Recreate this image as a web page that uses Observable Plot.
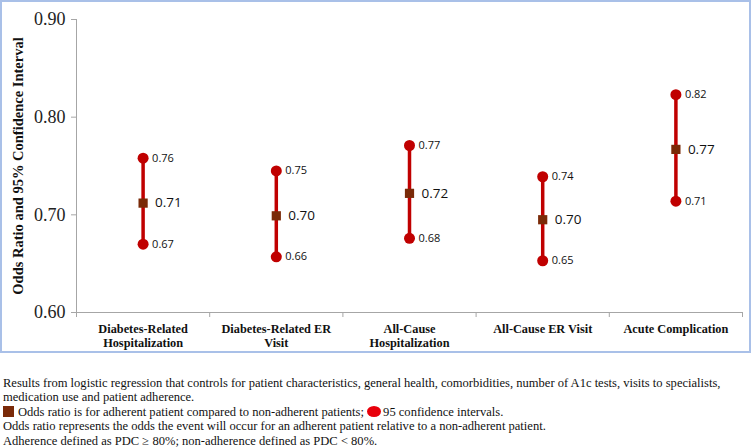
<!DOCTYPE html>
<html>
<head>
<meta charset="utf-8">
<script src="https://cdn.jsdelivr.net/npm/d3@7"></script>
<script src="https://cdn.jsdelivr.net/npm/@observablehq/plot@0.6"></script>
<style>
  body { margin: 0; background: #fff; width: 752px; height: 448px; overflow: hidden; }
  #box { position: absolute; left: 0; top: 0; width: 751px; height: 353px; box-sizing: border-box; border: 2px solid #a9c0e8; }
  #notes { position: absolute; left: 3px; top: 376px; font-family: "Liberation Serif", serif; font-size: 12.55px; line-height: 14.4px; color: #111; white-space: nowrap; }
  .sq { display: inline-block; width: 11px; height: 11px; background: #7a2a08; vertical-align: -1px; margin-right: 4px; }
  .el { display: inline-block; width: 14px; height: 11px; border-radius: 50%; background: #e8000b; vertical-align: -1px; margin-right: 2px; }
</style>
</head>
<body>
<div id="box"></div>
<div id="notes">
  Results from logistic regression that controls for patient characteristics, general health, comorbidities, number of A1c tests, visits to specialists,<br>
  medication use and patient adherence.<br>
  <span class="sq"></span>Odds ratio is for adherent patient compared to non-adherent patients; <span class="el"></span>95 confidence intervals.<br>
  Odds ratio represents the odds the event will occur for an adherent patient relative to a non-adherent patient.<br>
  Adherence defined as PDC ≥ 80%; non-adherence defined as PDC &lt; 80%.
</div>
<script>
const categories = ["Diabetes-Related\nHospitalization", "Diabetes-Related ER\nVisit", "All-Cause\nHospitalization", "All-Cause ER Visit", "Acute Complication"];
const oddsRatio = [0.712, 0.699, 0.722, 0.695, 0.767];
const lowerCI = [0.670, 0.657, 0.676, 0.653, 0.714];
const upperCI = [0.758, 0.745, 0.771, 0.739, 0.823];
const orLabels = ["0.71", "0.70", "0.72", "0.70", "0.77"];
const lowerLabels = ["0.67", "0.66", "0.68", "0.65", "0.71"];
const upperLabels = ["0.76", "0.75", "0.77", "0.74", "0.82"];
const yTicks = [0.6, 0.7, 0.8, 0.9];

const rows = categories.map((c, i) => ({
  pos: i + 0.5, cat: c, or: oddsRatio[i], lo: lowerCI[i], hi: upperCI[i],
  orL: orLabels[i], loL: lowerLabels[i], hiL: upperLabels[i]
}));

const chart = Plot.plot({
  width: 747,
  height: 349,
  marginLeft: 72,
  marginRight: 9,
  marginTop: 15,
  marginBottom: 41,
  style: { background: "transparent", overflow: "visible" },
  x: { type: "linear", domain: [0, 5] },
  y: { domain: [0.6, 0.9] },
  marks: [
    Plot.ruleX([0], { y1: 0.6, y2: 0.9, stroke: "#a6a6a6", strokeWidth: 1 }),
    Plot.ruleY([0.6], { x1: 0, x2: 5, stroke: "#a6a6a6", strokeWidth: 1 }),
    Plot.axisY({ ticks: yTicks, tickFormat: d3.format(".2f"), tickSize: 5, tickPadding: 6, stroke: "#a6a6a6",
      fontSize: 18, fontFamily: "Liberation Serif", fill: "#222", label: null }),
    Plot.text(["Odds Ratio and 95% Confidence Interval"], { frameAnchor: "left", dx: -58, rotate: -90, textAnchor: "middle",
      fontSize: 14.5, fontWeight: "bold", fontFamily: "Liberation Serif", fill: "#111" }),
    Plot.axisX({ ticks: [0, 1, 2, 3, 4, 5], tickFormat: () => "", tickSize: 5, stroke: "#a6a6a6", label: null }),
    Plot.axisX({ ticks: rows.map(d => d.pos), tickFormat: (d) => categories[Math.round(d - 0.5)], tickSize: 0, tickPadding: 10,
      fontSize: 12.3, fontWeight: "bold", fontFamily: "Liberation Serif", fill: "#111", lineHeight: 1.15, label: null }),
    Plot.ruleX(rows, { x: "pos", y1: "lo", y2: "hi", stroke: "#c00000", strokeWidth: 3.5 }),
    Plot.dot(rows, { x: "pos", y: "hi", r: 5.5, fill: "#c00000", stroke: "none" }),
    Plot.dot(rows, { x: "pos", y: "lo", r: 5.5, fill: "#c00000", stroke: "none" }),
    Plot.dot(rows, { x: "pos", y: "or", symbol: "square", r: 5.2, fill: "#7a2a08", stroke: "none" }),
    Plot.text(rows, { x: "pos", y: "hi", text: "hiL", dx: 9, textAnchor: "start", fontSize: 11, fontFamily: "Open Sans", fill: "#111" }),
    Plot.text(rows, { x: "pos", y: "lo", text: "loL", dx: 9, textAnchor: "start", fontSize: 11, fontFamily: "Open Sans", fill: "#111" }),
    Plot.text(rows, { x: "pos", y: "or", text: "orL", dx: 12, textAnchor: "start", fontSize: 13.5, fontFamily: "Open Sans", fill: "#111" })
  ]
});
chart.style.position = "absolute";
chart.style.left = "2px";
chart.style.top = "2px";
document.getElementById("box").appendChild(chart);
</script>
</body>
</html>
